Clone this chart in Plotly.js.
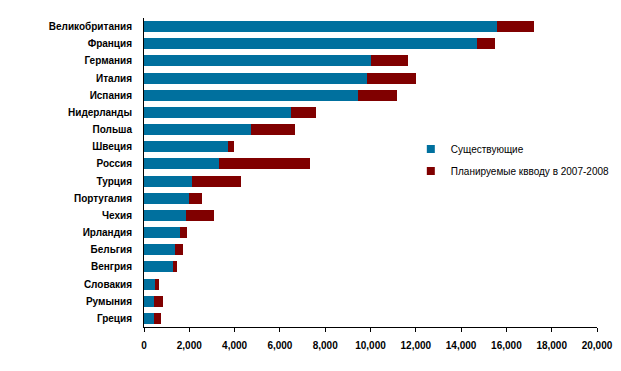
<!DOCTYPE html>
<html><head><meta charset="utf-8">
<script src="https://cdn.plot.ly/plotly-3.0.1.min.js"></script>
<style>html,body{margin:0;padding:0;background:#fff}#chart{width:621px;height:371px}</style>
</head><body><div id="chart"></div>
<script>
const countries = ["Великобритания","Франция","Германия","Италия","Испания","Нидерланды","Польша","Швеция","Россия","Турция","Португалия","Чехия","Ирландия","Бельгия","Венгрия","Словакия","Румыния","Греция"];
const existing = [15580,14700,10020,9850,9450,6490,4720,3710,3310,2120,1990,1850,1590,1370,1280,490,440,440];
const planned  = [1640,800,1640,2150,1720,1090,1950,260,4020,2160,570,1240,310,350,180,170,400,310];
const seriesNames = ["Существующие","Планируемые квводу в 2007-2008"];
const colors = ['#00709E','#800000'];

const font = "Arial, 'Liberation Sans', sans-serif";
const data = [
  {type:'bar', orientation:'h', y:countries, x:existing, name:seriesNames[0], marker:{color:colors[0]}, showlegend:false},
  {type:'bar', orientation:'h', y:countries, x:planned, name:seriesNames[1], marker:{color:colors[1]}, showlegend:false},
  {type:'scatter', mode:'markers', x:[null], y:[null], name:seriesNames[0], legendgroup:'a', marker:{symbol:'square', size:8, color:colors[0]}, hoverinfo:'skip'},
  {type:'scatter', mode:'markers', x:[null], y:[null], name:seriesNames[1], legendgroup:'b', marker:{symbol:'square', size:8, color:colors[1]}, hoverinfo:'skip'}
];
const layout = {
  width:621, height:371,
  margin:{l:144, r:24, t:18, b:44, pad:0, autoexpand:false},
  barmode:'stack', bargap:0.36,
  paper_bgcolor:'#fff', plot_bgcolor:'#fff',
  font:{family:font, size:10, color:'#000'},
  showlegend:true,
  legend:{x:0.589, y:0.623, xanchor:'left', yanchor:'top', traceorder:'grouped', font:{family:font, size:10, color:'#000'}, itemwidth:30, tracegroupgap:3, bgcolor:'rgba(0,0,0,0)'},
  xaxis:{range:[0,20000], dtick:2000, tickformat:',d', showgrid:false, zeroline:false,
    showline:true, linecolor:'#000', linewidth:1, ticks:'outside', ticklen:4, tickcolor:'#000', ticklabelstandoff:5,
    tickfont:{family:font, size:10, color:'#000', weight:'bold'}, fixedrange:true},
  yaxis:{autorange:'reversed', showgrid:false, zeroline:false, showline:true, linecolor:'#000', linewidth:1,
    ticks:'', ticklabelstandoff:9, tickfont:{family:font, size:10, color:'#000', weight:'bold'}, fixedrange:true}
};
Plotly.newPlot('chart', data, layout, {displayModeBar:false, staticPlot:true});
</script></body></html>
